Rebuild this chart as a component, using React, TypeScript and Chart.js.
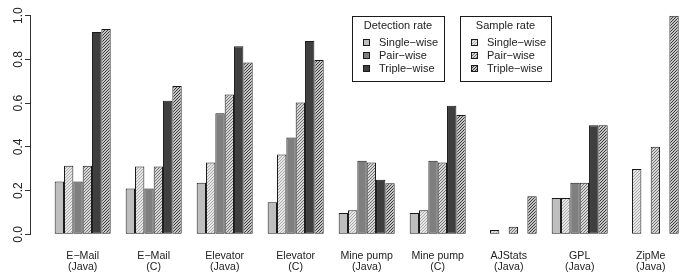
import { useEffect, useRef } from "react";
import { Chart, registerables } from "chart.js";

Chart.register(...registerables);

const categories = ["E−Mail", "E−Mail", "Elevator", "Elevator", "Mine pump", "Mine pump", "AJStats", "GPL", "ZipMe"];
const languages = ["(Java)", "(C)", "(Java)", "(C)", "(Java)", "(C)", "(Java)", "(Java)", "(Java)"];
const yTicks = [0, 0.2, 0.4, 0.6, 0.8, 1.0];
const seriesLabels = ["Single−wise", "Pair−wise", "Triple−wise"];
const legendTitles = ["Detection rate", "Sample rate"];

const detectionSingle = [0.241, 0.209, 0.236, 0.147, 0.098, 0.098, null, 0.166, null];
const sampleSingle = [0.314, 0.310, 0.328, 0.365, 0.110, 0.110, 0.020, 0.166, 0.299];
const detectionPair = [0.241, 0.209, 0.554, 0.443, 0.337, 0.337, null, 0.236, null];
const samplePair = [0.314, 0.310, 0.640, 0.603, 0.328, 0.328, 0.035, 0.236, 0.401];
const detectionTriple = [0.925, 0.611, 0.860, 0.884, 0.249, 0.588, null, 0.499, null];
const sampleTriple = [0.939, 0.678, 0.786, 0.797, 0.234, 0.546, 0.174, 0.499, 1.0];

const FONT = "'Liberation Sans', Arial, Helvetica, sans-serif";
const TEXT = "#222222";
const grays = ["#bebebe", "#7f7f7f", "#3f3f3f"];
const hatchGrays = ["#a8a8a8", "#6e6e6e", "#333333"];

function makePattern(ctx: CanvasRenderingContext2D, color: string): CanvasPattern | string {
  const c = document.createElement("canvas");
  c.width = 3;
  c.height = 3;
  const g = c.getContext("2d");
  if (!g) return color;
  g.fillStyle = "#ffffff";
  g.fillRect(0, 0, 3, 3);
  g.strokeStyle = color;
  g.lineWidth = 1.1;
  g.beginPath();
  g.moveTo(-1, 4);
  g.lineTo(4, -1);
  g.moveTo(-1, 1);
  g.lineTo(1, -1);
  g.moveTo(2, 4);
  g.lineTo(4, 2);
  g.stroke();
  return ctx.createPattern(c, "repeat") || color;
}

const toXY = (arr: (number | null)[]) => arr.map((v, i) => ({ x: i, y: v }));

const boxLegendPlugin = {
  id: "boxLegends",
  afterDraw(chart: any) {
    const ctx: CanvasRenderingContext2D = chart.ctx;
    const ds = chart.data.datasets;
    const groups = [
      { x: 352, w: 92, idx: [0, 2, 4], title: legendTitles[0] },
      { x: 460, w: 91, idx: [1, 3, 5], title: legendTitles[1] },
    ];
    ctx.save();
    ctx.font = `11px ${FONT}`;
    ctx.textBaseline = "middle";
    for (const g of groups) {
      ctx.fillStyle = "#ffffff";
      ctx.fillRect(g.x, 16, g.w, 65);
      ctx.strokeStyle = "#1a1a1a";
      ctx.lineWidth = 1;
      ctx.strokeRect(g.x + 0.5, 16.5, g.w, 65);
      ctx.fillStyle = TEXT;
      ctx.textAlign = "center";
      ctx.fillText(g.title, g.x + g.w / 2, 25.5);
      g.idx.forEach((di, k) => {
        const yc = 42.5 + k * 13;
        ctx.fillStyle = ds[di].backgroundColor;
        ctx.fillRect(g.x + 11, yc - 3.5, 7, 7);
        ctx.strokeStyle = "#1a1a1a";
        ctx.strokeRect(g.x + 11.5, yc - 3, 6, 6);
        ctx.fillStyle = TEXT;
        ctx.textAlign = "left";
        ctx.fillText(seriesLabels[k], g.x + 27, yc);
      });
    }
    ctx.restore();
  },
};

export default function App() {
  const ref = useRef<HTMLCanvasElement | null>(null);

  useEffect(() => {
    const canvas = ref.current;
    if (!canvas) return;
    const ctx = canvas.getContext("2d");
    if (!ctx) return;
    const sFills = hatchGrays.map((c) => makePattern(ctx, c));
    const common = { borderColor: "#1a1a1a", borderWidth: 1, borderSkipped: false as const, categoryPercentage: 0.789, barPercentage: 1.0 };
    const chart = new Chart(canvas, {
      type: "bar",
      data: {
        datasets: [
          { label: "Detection " + seriesLabels[0], data: toXY(detectionSingle), backgroundColor: grays[0], ...common },
          { label: "Sample " + seriesLabels[0], data: toXY(sampleSingle), backgroundColor: sFills[0], ...common },
          { label: "Detection " + seriesLabels[1], data: toXY(detectionPair), backgroundColor: grays[1], ...common },
          { label: "Sample " + seriesLabels[1], data: toXY(samplePair), backgroundColor: sFills[1], ...common },
          { label: "Detection " + seriesLabels[2], data: toXY(detectionTriple), backgroundColor: grays[2], ...common },
          { label: "Sample " + seriesLabels[2], data: toXY(sampleTriple), backgroundColor: sFills[2], ...common },
        ] as any,
      },
      options: {
        animation: false,
        responsive: false,
        maintainAspectRatio: false,
        layout: { padding: { top: 15.7, left: 0, right: 1, bottom: 0 } },
        plugins: { legend: { display: false }, tooltip: { enabled: false } },
        scales: {
          x: {
            type: "linear",
            offset: false,
            min: -0.742,
            max: 8.469,
            grid: { display: false, drawTicks: false },
            border: { display: false },
            afterBuildTicks: (scale: any) => {
              scale.ticks = categories.map((_, i) => ({ value: i }));
            },
            afterFit: (scale: any) => {
              scale.height = 39.7;
            },
            ticks: {
              autoSkip: false,
              maxRotation: 0,
              minRotation: 0,
              padding: 16.5,
              color: TEXT,
              font: { family: FONT, size: 10.6, lineHeight: 1.05 },
              callback: (v: any) => {
                const i = Math.round(Number(v));
                return [categories[i], languages[i]];
              },
            },
          },
          y: {
            min: 0,
            max: 1,
            afterBuildTicks: (scale: any) => {
              scale.ticks = yTicks.map((v) => ({ value: v }));
            },
            afterFit: (scale: any) => {
              scale.width = 30;
            },
            grid: { display: true, drawOnChartArea: false, drawTicks: true, tickLength: 5, color: "#333333" },
            border: { display: true, color: "#333333", width: 1 },
            ticks: {
              minRotation: 90,
              maxRotation: 90,
              crossAlign: "center",
              padding: -2,
              color: TEXT,
              font: { family: FONT, size: 12 },
              callback: (v: any) => Number(v).toFixed(1),
            },
          },
        },
      },
      plugins: [boxLegendPlugin],
    });
    return () => chart.destroy();
  }, []);

  return (
    <div style={{ position: "absolute", left: 0, top: 0, width: 685, height: 274, background: "#ffffff" }}>
      <canvas ref={ref} width={685} height={274} style={{ display: "block" }} />
    </div>
  );
}
